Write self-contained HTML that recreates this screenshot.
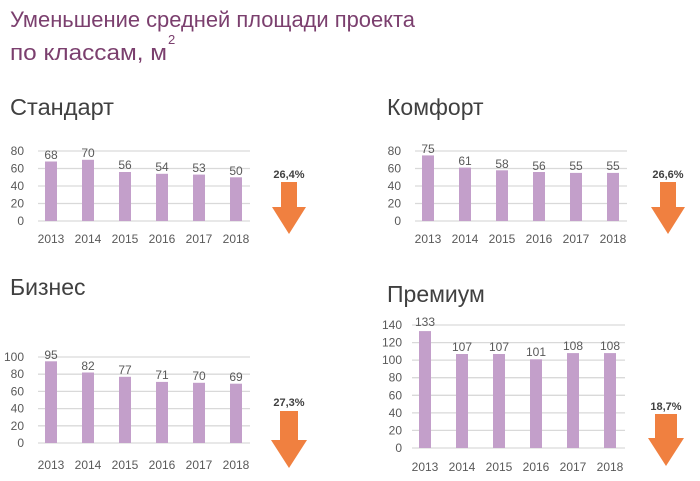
<!DOCTYPE html>
<html><head><meta charset="utf-8"><style>
body{margin:0;background:#fff;}
svg text{font-family:"Liberation Sans","DejaVu Sans",sans-serif;}
.t{fill:#7b3f6e;font-size:22px;}
.h{fill:#404040;font-size:23px;}
.ax{fill:#595959;font-size:12px;text-anchor:end;}
.yr{fill:#595959;font-size:12px;text-anchor:middle;}
.v{fill:#595959;font-size:12px;text-anchor:middle;}
.p{fill:#404040;font-size:11px;font-weight:bold;text-anchor:middle;}
.g{stroke:#d9d9d9;stroke-width:1.3;}
.b{fill:#c39fca;}
.ar{fill:#f08040;}
</style></head><body>
<svg width="700" height="476" viewBox="0 0 700 476" xmlns="http://www.w3.org/2000/svg">
<text class="t" x="10" y="27" textLength="405" lengthAdjust="spacingAndGlyphs">Уменьшение средней площади проекта</text>
<text class="t" x="10" y="60" textLength="157" lengthAdjust="spacingAndGlyphs">по классам, м</text>
<text class="t" x="168" y="44" style="font-size:13px">2</text>
<text class="h" x="10" y="115" textLength="104" lengthAdjust="spacingAndGlyphs">Стандарт</text>
<text class="h" x="387" y="115">Комфорт</text>
<text class="h" x="10" y="295">Бизнес</text>
<text class="h" x="387" y="302">Премиум</text>

<!-- Standard -->
<g>
<line class="g" x1="38" x2="250" y1="151" y2="151"/><line class="g" x1="38" x2="250" y1="168.5" y2="168.5"/><line class="g" x1="38" x2="250" y1="186" y2="186"/><line class="g" x1="38" x2="250" y1="203.5" y2="203.5"/><line class="g" x1="38" x2="250" y1="221" y2="221"/>
<text class="ax" x="24" y="155">80</text><text class="ax" x="24" y="172.5">60</text><text class="ax" x="24" y="190">40</text><text class="ax" x="24" y="207.5">20</text><text class="ax" x="24" y="225">0</text>
<rect class="b" x="45" y="161.5" width="12" height="59.5"/><rect class="b" x="82" y="159.8" width="12" height="61.2"/><rect class="b" x="119" y="172" width="12" height="49"/><rect class="b" x="156" y="173.8" width="12" height="47.2"/><rect class="b" x="193" y="174.6" width="12" height="46.4"/><rect class="b" x="230" y="177.3" width="12" height="43.7"/>
<text class="v" x="51" y="159">68</text><text class="v" x="88" y="157">70</text><text class="v" x="125" y="169">56</text><text class="v" x="162" y="171">54</text><text class="v" x="199" y="172">53</text><text class="v" x="236" y="175">50</text>
<text class="yr" x="51" y="243">2013</text><text class="yr" x="88" y="243">2014</text><text class="yr" x="125" y="243">2015</text><text class="yr" x="162" y="243">2016</text><text class="yr" x="199" y="243">2017</text><text class="yr" x="236" y="243">2018</text>
<text class="p" x="289" y="178">26,4%</text>
<polygon class="ar" points="281,182 297,182 297,207 306,207 289,234 272,207 281,207"/>
</g>

<!-- Komfort -->
<g transform="translate(377,0)">
<line class="g" x1="38" x2="250" y1="151" y2="151"/><line class="g" x1="38" x2="250" y1="168.5" y2="168.5"/><line class="g" x1="38" x2="250" y1="186" y2="186"/><line class="g" x1="38" x2="250" y1="203.5" y2="203.5"/><line class="g" x1="38" x2="250" y1="221" y2="221"/>
<text class="ax" x="24" y="155">80</text><text class="ax" x="24" y="172.5">60</text><text class="ax" x="24" y="190">40</text><text class="ax" x="24" y="207.5">20</text><text class="ax" x="24" y="225">0</text>
<rect class="b" x="45" y="155.4" width="12" height="65.6"/><rect class="b" x="82" y="167.6" width="12" height="53.4"/><rect class="b" x="119" y="170.3" width="12" height="50.7"/><rect class="b" x="156" y="172" width="12" height="49"/><rect class="b" x="193" y="172.9" width="12" height="48.1"/><rect class="b" x="230" y="172.9" width="12" height="48.1"/>
<text class="v" x="51" y="153">75</text><text class="v" x="88" y="165">61</text><text class="v" x="125" y="168">58</text><text class="v" x="162" y="170">56</text><text class="v" x="199" y="170">55</text><text class="v" x="236" y="170">55</text>
<text class="yr" x="51" y="243">2013</text><text class="yr" x="88" y="243">2014</text><text class="yr" x="125" y="243">2015</text><text class="yr" x="162" y="243">2016</text><text class="yr" x="199" y="243">2017</text><text class="yr" x="236" y="243">2018</text>
<text class="p" x="291" y="178">26,6%</text>
<polygon class="ar" points="283,182 299,182 299,207 308,207 291,234 274,207 283,207"/>
</g>

<!-- Biznes -->
<g>
<line class="g" x1="38" x2="250" y1="357" y2="357"/><line class="g" x1="38" x2="250" y1="374.2" y2="374.2"/><line class="g" x1="38" x2="250" y1="391.4" y2="391.4"/><line class="g" x1="38" x2="250" y1="408.6" y2="408.6"/><line class="g" x1="38" x2="250" y1="425.8" y2="425.8"/><line class="g" x1="38" x2="250" y1="443" y2="443"/>
<text class="ax" x="24" y="361">100</text><text class="ax" x="24" y="378">80</text><text class="ax" x="24" y="395.5">60</text><text class="ax" x="24" y="412.5">40</text><text class="ax" x="24" y="430">20</text><text class="ax" x="24" y="447">0</text>
<rect class="b" x="45" y="361.3" width="12" height="81.7"/><rect class="b" x="82" y="372.5" width="12" height="70.5"/><rect class="b" x="119" y="376.8" width="12" height="66.2"/><rect class="b" x="156" y="381.9" width="12" height="61.1"/><rect class="b" x="193" y="382.8" width="12" height="60.2"/><rect class="b" x="230" y="383.7" width="12" height="59.3"/>
<text class="v" x="51" y="359">95</text><text class="v" x="88" y="370">82</text><text class="v" x="125" y="374">77</text><text class="v" x="162" y="379">71</text><text class="v" x="199" y="380">70</text><text class="v" x="236" y="381">69</text>
<text class="yr" x="51" y="469">2013</text><text class="yr" x="88" y="469">2014</text><text class="yr" x="125" y="469">2015</text><text class="yr" x="162" y="469">2016</text><text class="yr" x="199" y="469">2017</text><text class="yr" x="236" y="469">2018</text>
<text class="p" x="289" y="406">27,3%</text>
<polygon class="ar" points="280,411 298,411 298,440 307,440 289,468 271,440 280,440"/>
</g>

<!-- Premium -->
<g>
<line class="g" x1="412" x2="625" y1="325" y2="325"/><line class="g" x1="412" x2="625" y1="342.6" y2="342.6"/><line class="g" x1="412" x2="625" y1="360.1" y2="360.1"/><line class="g" x1="412" x2="625" y1="377.7" y2="377.7"/><line class="g" x1="412" x2="625" y1="395.3" y2="395.3"/><line class="g" x1="412" x2="625" y1="412.9" y2="412.9"/><line class="g" x1="412" x2="625" y1="430.4" y2="430.4"/><line class="g" x1="412" x2="625" y1="448" y2="448"/>
<text class="ax" x="402" y="329">140</text><text class="ax" x="402" y="346.6">120</text><text class="ax" x="402" y="364">100</text><text class="ax" x="402" y="381.7">80</text><text class="ax" x="402" y="399.3">60</text><text class="ax" x="402" y="417">40</text><text class="ax" x="402" y="434.4">20</text><text class="ax" x="402" y="452">0</text>
<rect class="b" x="419" y="331.1" width="12" height="116.9"/><rect class="b" x="456" y="354" width="12" height="94"/><rect class="b" x="493" y="354" width="12" height="94"/><rect class="b" x="530" y="359.3" width="12" height="88.7"/><rect class="b" x="567" y="353.1" width="12" height="94.9"/><rect class="b" x="604" y="353.1" width="12" height="94.9"/>
<text class="v" x="425" y="326">133</text><text class="v" x="462" y="351">107</text><text class="v" x="499" y="351">107</text><text class="v" x="536" y="356">101</text><text class="v" x="573" y="350">108</text><text class="v" x="610" y="350">108</text>
<text class="yr" x="425" y="471">2013</text><text class="yr" x="462" y="471">2014</text><text class="yr" x="499" y="471">2015</text><text class="yr" x="536" y="471">2016</text><text class="yr" x="573" y="471">2017</text><text class="yr" x="610" y="471">2018</text>
<text class="p" x="666" y="410">18,7%</text>
<polygon class="ar" points="655,414 677,414 677,438 684,438 666,466 648,438 655,438"/>
</g>
</svg>
</body></html>
